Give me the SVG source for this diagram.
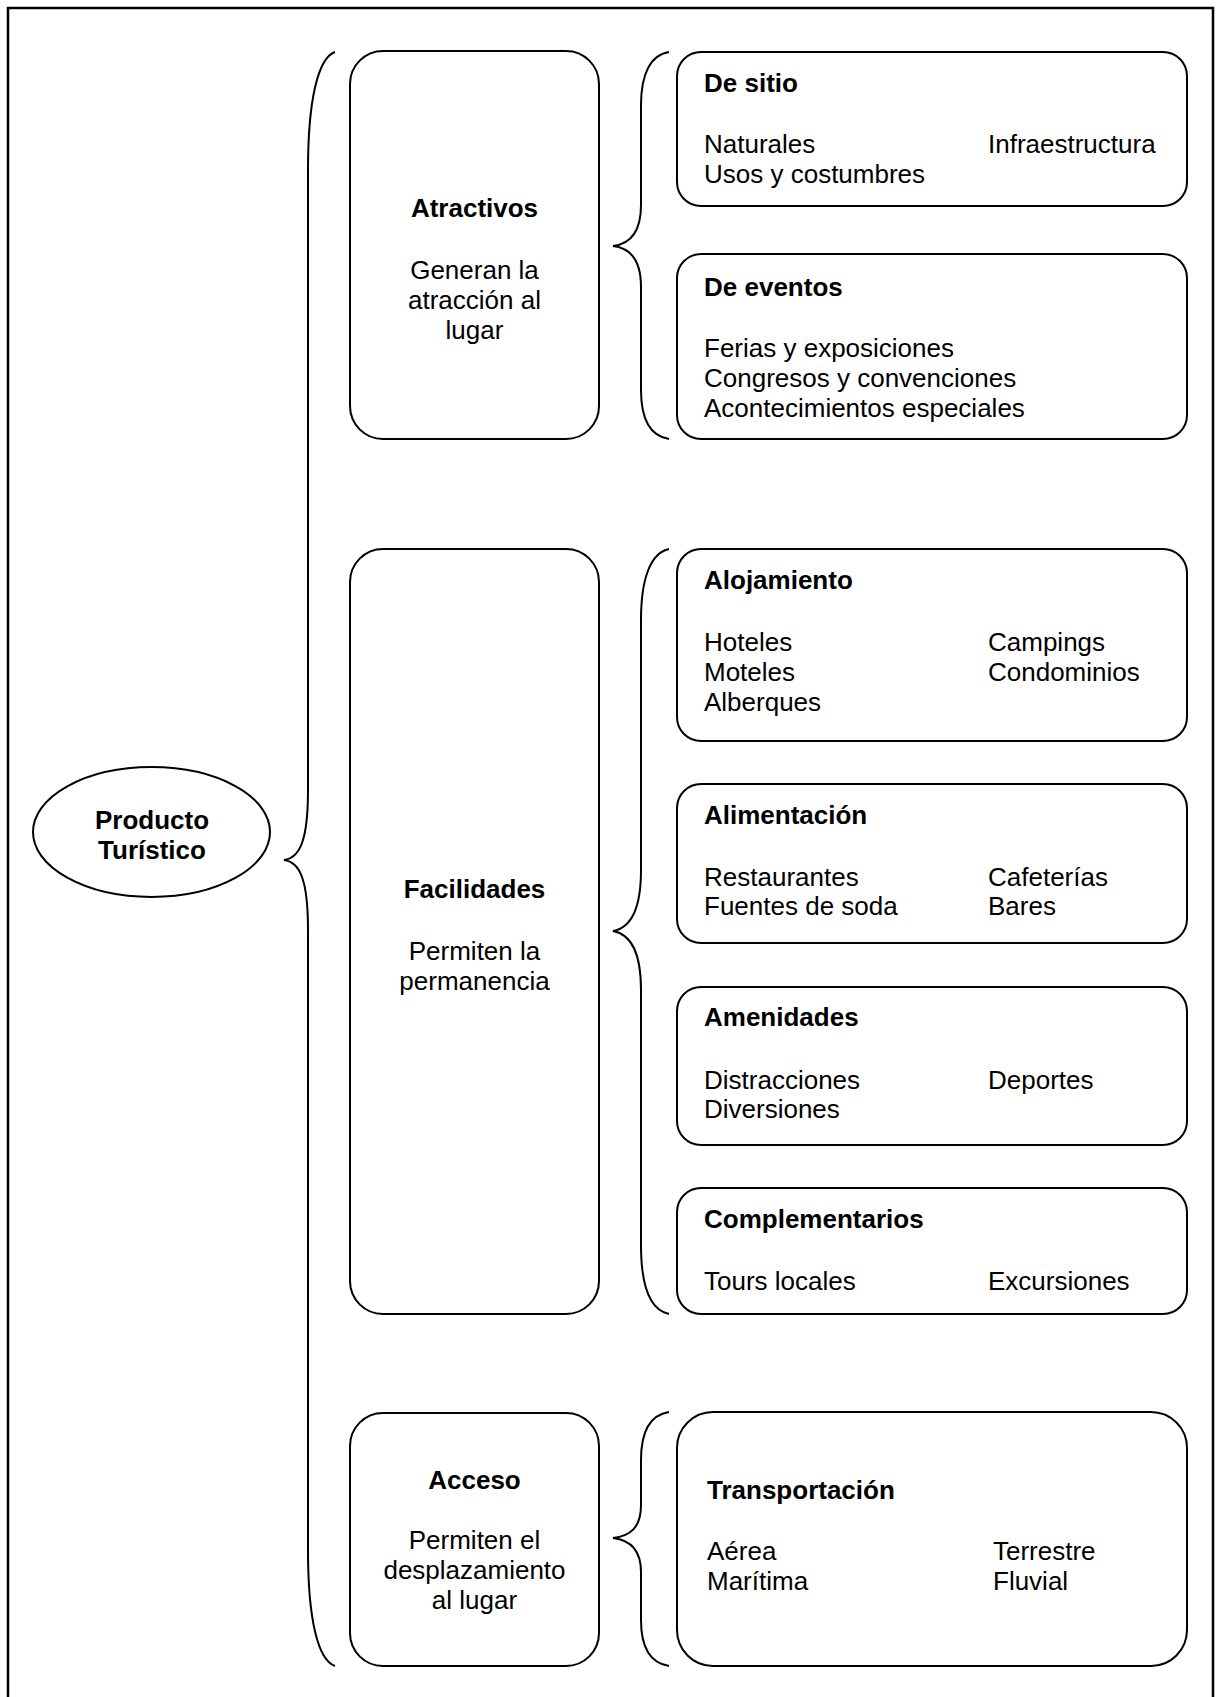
<svg xmlns="http://www.w3.org/2000/svg" width="1218" height="1697" viewBox="0 0 1218 1697">
<defs>
<style>
.box{fill:none;stroke:#000;stroke-width:2}
.brace{fill:none;stroke:#000;stroke-width:2}
text{font-family:"Liberation Sans",Arial,sans-serif;font-size:26px;fill:#000}
.b{font-weight:bold}
.c{text-anchor:middle}
</style>
</defs>
<rect x="0" y="0" width="1218" height="1697" fill="#fff"/>
<rect id="frame" x="8" y="8" width="1205" height="1710" fill="none" stroke="#000" stroke-width="2.5"/>
<g id="connectors">
<path class="brace" d="M335,52 C318,58 308,100 308,170 L308,790 C308,840 300,858 284,860 C300,862 308,880 308,930 L308,1550 C308,1620 318,1660 335,1666"/>
<path class="brace" d="M669,52 C650,55 641,75 641,105 L641,205 C641,232 630,244 613,246 C630,248 641,260 641,287 L641,390 C641,420 650,436 669,439"/>
<path class="brace" d="M669,549 C650,553 641,580 641,620 L641,870 C641,910 630,928 613,931 C630,934 641,952 641,990 L641,1245 C641,1285 650,1310 669,1314"/>
<path class="brace" d="M669,1412 C650,1415 641,1432 641,1460 L641,1505 C641,1528 630,1536 613,1538 C630,1540 641,1550 641,1572 L641,1620 C641,1648 650,1663 669,1666"/>
</g>
<g id="producto">
<ellipse cx="151.5" cy="832" rx="118.5" ry="65" fill="#fff" stroke="#000" stroke-width="2"/>
<text class="b c" x="152" y="829">Producto</text>
<text class="b c" x="152" y="859">Turístico</text>
</g>
<g id="atractivos">
<rect class="box" x="350" y="51" width="249" height="388" rx="33"/>
<text class="b c" x="474.5" y="217">Atractivos</text>
<text class="c" x="474.5" y="279">Generan la</text>
<text class="c" x="474.5" y="309">atracción al</text>
<text class="c" x="474.5" y="339">lugar</text>
</g>
<g id="facilidades">
<rect class="box" x="350" y="549" width="249" height="765" rx="33"/>
<text class="b c" x="474.5" y="898">Facilidades</text>
<text class="c" x="474.5" y="960">Permiten la</text>
<text class="c" x="474.5" y="990">permanencia</text>
</g>
<g id="acceso">
<rect class="box" x="350" y="1413" width="249" height="253" rx="33"/>
<text class="b c" x="474.5" y="1489">Acceso</text>
<text class="c" x="474.5" y="1549">Permiten el</text>
<text class="c" x="474.5" y="1579">desplazamiento</text>
<text class="c" x="474.5" y="1609">al lugar</text>
</g>
<g id="de-sitio">
<rect class="box" x="677" y="52" width="510" height="154" rx="24"/>
<text class="b" x="704" y="92">De sitio</text>
<text x="704" y="153">Naturales</text>
<text x="988" y="153">Infraestructura</text>
<text x="704" y="183">Usos y costumbres</text>
</g>
<g id="de-eventos">
<rect class="box" x="677" y="254" width="510" height="185" rx="24"/>
<text class="b" x="704" y="296">De eventos</text>
<text x="704" y="357">Ferias y exposiciones</text>
<text x="704" y="387">Congresos y convenciones</text>
<text x="704" y="417">Acontecimientos especiales</text>
</g>
<g id="alojamiento">
<rect class="box" x="677" y="549" width="510" height="192" rx="24"/>
<text class="b" x="704" y="589">Alojamiento</text>
<text x="704" y="651">Hoteles</text>
<text x="988" y="651">Campings</text>
<text x="704" y="681">Moteles</text>
<text x="988" y="681">Condominios</text>
<text x="704" y="711">Alberques</text>
</g>
<g id="alimentacion">
<rect class="box" x="677" y="784" width="510" height="159" rx="24"/>
<text class="b" x="704" y="824">Alimentación</text>
<text x="704" y="886">Restaurantes</text>
<text x="988" y="886">Cafeterías</text>
<text x="704" y="915">Fuentes de soda</text>
<text x="988" y="915">Bares</text>
</g>
<g id="amenidades">
<rect class="box" x="677" y="987" width="510" height="158" rx="24"/>
<text class="b" x="704" y="1026">Amenidades</text>
<text x="704" y="1089">Distracciones</text>
<text x="988" y="1089">Deportes</text>
<text x="704" y="1118">Diversiones</text>
</g>
<g id="complementarios">
<rect class="box" x="677" y="1188" width="510" height="126" rx="24"/>
<text class="b" x="704" y="1228">Complementarios</text>
<text x="704" y="1290">Tours locales</text>
<text x="988" y="1290">Excursiones</text>
</g>
<g id="transportacion">
<rect class="box" x="677" y="1412" width="510" height="254" rx="36"/>
<text class="b" x="707" y="1499">Transportación</text>
<text x="707" y="1560">Aérea</text>
<text x="993" y="1560">Terrestre</text>
<text x="707" y="1590">Marítima</text>
<text x="993" y="1590">Fluvial</text>
</g>
</svg>
